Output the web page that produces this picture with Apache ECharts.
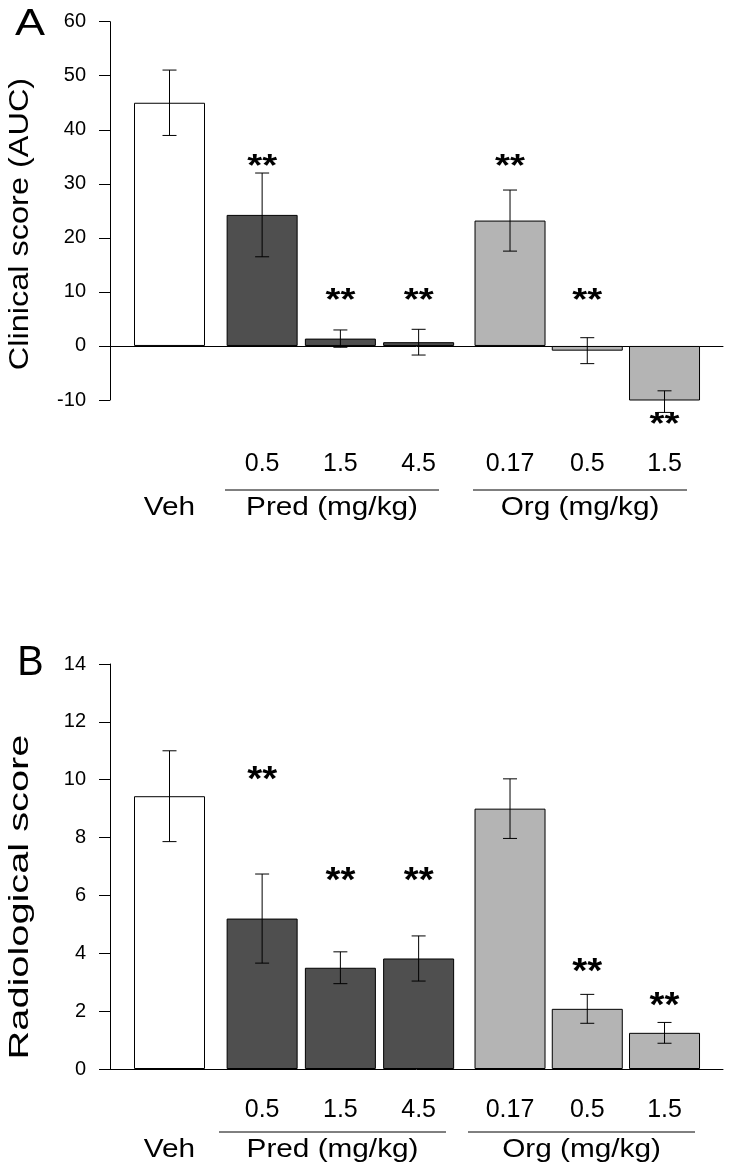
<!DOCTYPE html>
<html>
<head>
<meta charset="utf-8">
<script src="https://cdn.jsdelivr.net/npm/echarts/dist/echarts.min.js"></script>
<style>
html,body{margin:0;padding:0;background:#fff;}
#chart{width:730px;height:1172px;}
</style>
</head>
<body>
<div id="chart"></div>
<script>
// ---- data ----
const vehLabel = ['Veh'];
const predDoses = ['0.5', '1.5', '4.5'];
const orgDoses = ['0.17', '0.5', '1.5'];
const groupLabels = ['Pred (mg/kg)', 'Org (mg/kg)'];
const panelLetters = ['A', 'B'];
const yTitles = ['Clinical score (AUC)', 'Radiological score'];

// Panel A: clinical score
const clinicalVeh = [45.0];
const clinicalVehErr = [6.05];
const clinicalVehSig = [null];
const clinicalPred = [24.25, 1.36, 0.7];
const clinicalPredErr = [7.75, 1.6, 2.38];
const clinicalPredSig = [34.6, 9.8, 9.8];
const clinicalOrg = [23.2, -0.87, -10.3];
const clinicalOrgErr = [5.65, 2.4, 2.0];
const clinicalOrgSig = [34.6, 9.8, -13.1];
const clinicalAxis = {min: -10, max: 60, interval: 10};

// Panel B: radiological score
const radioVeh = [9.43];
const radioVehErr = [1.57];
const radioVehSig = [null];
const radioPred = [5.2, 3.5, 3.82];
const radioPredErr = [1.54, 0.55, 0.78];
const radioPredSig = [10.3, 6.8, 6.8];
const radioOrg = [9.0, 2.08, 1.25];
const radioOrgErr = [1.03, 0.5, 0.36];
const radioOrgSig = [null, 3.65, 2.48];
const radioAxis = {min: 0, max: 14, interval: 2};

// ---- layout / style ----
const FONT = 'Liberation Sans, Arial, Helvetica, sans-serif';
const colors = {veh: '#ffffff', pred: '#4f4f4f', org: '#b4b4b4'};
const panels = [
  {top: 21.7, height: 378.3, axis: clinicalAxis, numMargin: 64, vehY: 508,
   lineY: 490, nameY: 508, predLine: [225, 439], orgLine: [473, 687],
   letterX: 30, letterY: 25, letterSize: 36, letterSX: 1.25, letterSY: 1, titleY: 224, titleScale: 1.16, starSY: 1,
   groups: [
     {cats: vehLabel, vals: clinicalVeh, err: clinicalVehErr, sig: clinicalVehSig, color: colors.veh},
     {cats: predDoses, vals: clinicalPred, err: clinicalPredErr, sig: clinicalPredSig, color: colors.pred},
     {cats: orgDoses, vals: clinicalOrg, err: clinicalOrgErr, sig: clinicalOrgSig, color: colors.org}
   ]},
  {top: 664, height: 405, axis: radioAxis, numMargin: 41, vehY: 1150,
   lineY: 1132, nameY: 1150, predLine: [219, 446], orgLine: [468, 695],
   letterX: 30.5, letterY: 663, letterSize: 36, letterSX: 1.1, letterSY: 1.16, titleY: 897, titleScale: 1.42, starSY: 1.1,
   groups: [
     {cats: vehLabel, vals: radioVeh, err: radioVehErr, sig: radioVehSig, color: colors.veh},
     {cats: predDoses, vals: radioPred, err: radioPredErr, sig: radioPredSig, color: colors.pred},
     {cats: orgDoses, vals: radioOrg, err: radioOrgErr, sig: radioOrgSig, color: colors.org}
   ]}
];
// horizontal geometry of the sub-grids (left, width) for Veh / Pred / Org
const subGridX = [[130.5, 78], [223, 234.75], [471.4, 231.75]];
const AXIS_LEFT = 110, AXIS_RIGHT = 7;
const TEXT_SX = 1.19;

const grid = [], xAxis = [], yAxis = [], series = [], graphic = [];
const vehAxisIdx = [];

panels.forEach((p, pi) => {
  const gMain = grid.length;
  grid.push({left: AXIS_LEFT, right: AXIS_RIGHT, top: p.top, height: p.height, outerBoundsMode: 'none', containLabel: false});
  xAxis.push({gridIndex: gMain, type: 'category', data: [], boundaryGap: false,
    axisLine: {show: true, onZero: true, lineStyle: {color: '#000', width: 1}},
    axisTick: {show: false}, axisLabel: {show: false}, splitLine: {show: false}});
  yAxis.push({gridIndex: gMain, type: 'value', min: p.axis.min, max: p.axis.max, interval: p.axis.interval,
    axisLine: {show: true, onZero: false, lineStyle: {color: '#000', width: 1}},
    axisTick: {show: true, inside: false, length: 11, lineStyle: {color: '#000', width: 1}},
    axisLabel: {fontSize: 20, color: '#000', fontFamily: FONT, margin: 24},
    splitLine: {show: false}});

  p.groups.forEach((g, gi) => {
    const gIdx = grid.length;
    if (gi === 0) vehAxisIdx.push(gIdx);
    grid.push({left: subGridX[gi][0], width: subGridX[gi][1], top: p.top, height: p.height, outerBoundsMode: 'none', containLabel: false});
    xAxis.push({gridIndex: gIdx, type: 'category', data: g.cats, boundaryGap: true, position: 'bottom',
      axisLine: {show: false, onZero: false}, axisTick: {show: false}, splitLine: {show: false},
      axisLabel: {show: gi !== 0, interval: 0, fontSize: 25, color: '#000', fontFamily: FONT,
        margin: p.numMargin, verticalAlign: 'middle'}});
    yAxis.push({gridIndex: gIdx, type: 'value', min: p.axis.min, max: p.axis.max, interval: p.axis.interval, show: false,
      splitLine: {show: false}});
    series.push({type: 'bar', xAxisIndex: gIdx, yAxisIndex: gIdx, data: g.vals, barWidth: 71,
      itemStyle: {color: g.color, borderColor: '#000', borderWidth: 1}, z: 2, silent: true, animation: false});
    const starSY = p.starSY;
    series.push({type: 'custom', xAxisIndex: gIdx, yAxisIndex: gIdx, z: 5, silent: true, animation: false,
      data: g.vals.map((v, i) => [i, v, g.err[i], g.sig[i] == null ? NaN : g.sig[i]]),
      encode: {x: 0, y: 1},
      renderItem: (params, api) => {
        const i = api.value(0), v = api.value(1), e = api.value(2), s = api.value(3);
        const x = api.coord([i, v])[0];
        const yT = api.coord([i, v + e])[1];
        const yB = api.coord([i, v - e])[1];
        const cap = 7;
        const ls = {stroke: '#000', lineWidth: 1};
        const children = [
          {type: 'line', shape: {x1: x, y1: yT, x2: x, y2: yB}, style: ls},
          {type: 'line', shape: {x1: x - cap, y1: yT, x2: x + cap, y2: yT}, style: ls},
          {type: 'line', shape: {x1: x - cap, y1: yB, x2: x + cap, y2: yB}, style: ls}
        ];
        if (!isNaN(s)) {
          const yS = api.coord([i, s])[1];
          children.push({type: 'text', x: x, y: yS, scaleX: 1.2, scaleY: starSY,
            style: {text: '**', x: 0, y: 8, align: 'center', verticalAlign: 'middle',
            font: 'bold 32px ' + FONT, fill: '#000'}});
        }
        return {type: 'group', children: children};
      }});
  });

  // group brackets and names
  [[p.predLine, groupLabels[0]], [p.orgLine, groupLabels[1]]].forEach(([ln, name]) => {
    graphic.push({type: 'line', shape: {x1: ln[0], y1: p.lineY, x2: ln[1], y2: p.lineY},
      style: {stroke: '#000', lineWidth: 1}, silent: true});
    graphic.push({type: 'text', x: (ln[0] + ln[1]) / 2, y: p.nameY, scaleX: TEXT_SX,
      style: {text: name, x: 0, y: 0, align: 'center', verticalAlign: 'middle', font: '25px ' + FONT, fill: '#000'}, silent: true});
  });
  // y axis title
  graphic.push({type: 'text', x: 20, y: p.titleY, rotation: Math.PI / 2, scaleX: p.titleScale,
    style: {text: yTitles[pi], x: 0, y: 0, align: 'center', verticalAlign: 'middle', font: '28px ' + FONT, fill: '#000'}, silent: true});
  // panel letter
  graphic.push({type: 'text', x: p.letterX, y: p.letterY, scaleX: p.letterSX, scaleY: p.letterSY,
    style: {text: panelLetters[pi], x: 0, y: 0, align: 'center', verticalAlign: 'middle', font: p.letterSize + 'px ' + FONT, fill: '#000'}, silent: true});
});

const chart = echarts.init(document.getElementById('chart'), null, {renderer: 'canvas'});
chart.setOption({
  animation: false,
  backgroundColor: '#fff',
  textStyle: {fontFamily: FONT},
  grid, xAxis, yAxis, series, graphic
});
// "Veh" label placed under its bar through the library's category scale
panels.forEach((p, pi) => {
  const vx = chart.convertToPixel({xAxisIndex: vehAxisIdx[pi]}, vehLabel[0]);
  graphic.push({type: 'text', x: vx, y: p.vehY, scaleX: TEXT_SX,
    style: {text: vehLabel[0], x: 0, y: 0, align: 'center', verticalAlign: 'middle', font: '25px ' + FONT, fill: '#000'}, silent: true});
});
chart.setOption({graphic});
</script>
</body>
</html>
